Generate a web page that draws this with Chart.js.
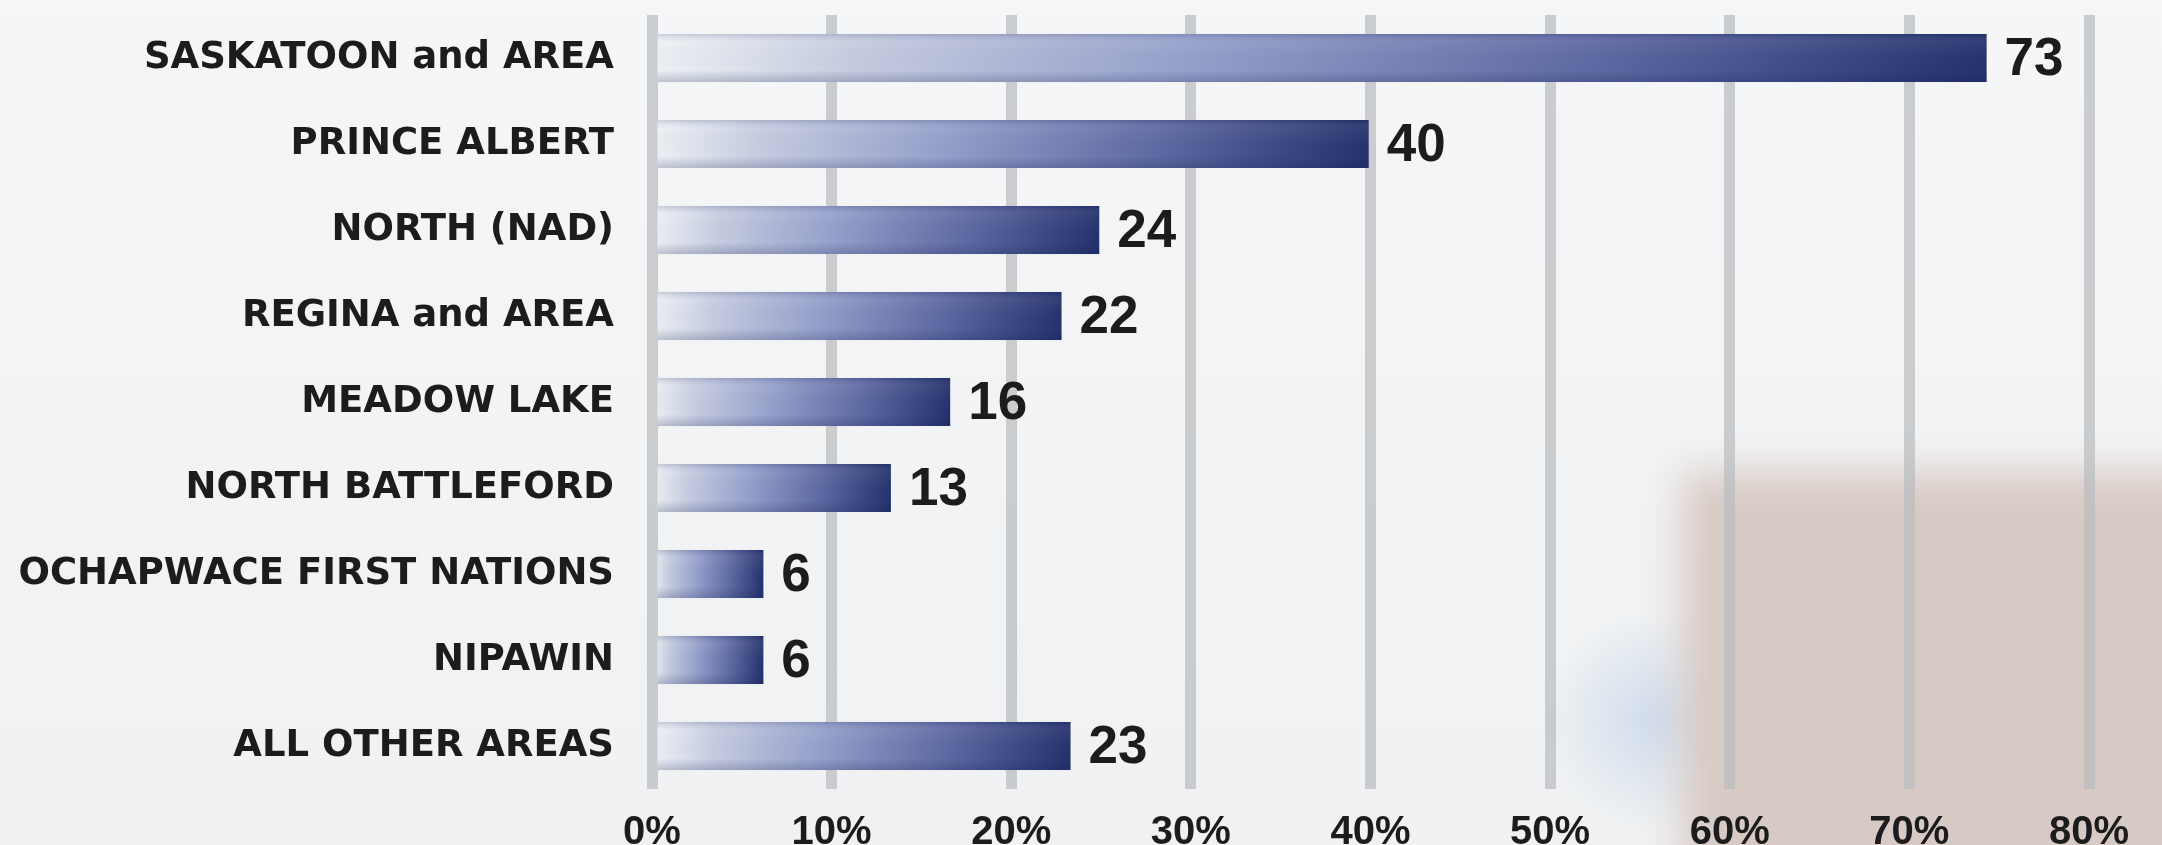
<!DOCTYPE html>
<html>
<head>
<meta charset="utf-8">
<script src="https://cdn.jsdelivr.net/npm/chart.js@4.4.1/dist/chart.umd.min.js"></script>
<style>
  html, body { margin: 0; padding: 0; background: #f4f5f6; }
  #wrap { width: 2162px; height: 845px; }
</style>
</head>
<body>
<div id="wrap"><canvas id="c" width="2162" height="845"></canvas></div>
<script>
const categories = [
  'SASKATOON and AREA',
  'PRINCE ALBERT',
  'NORTH (NAD)',
  'REGINA and AREA',
  'MEADOW LAKE',
  'NORTH BATTLEFORD',
  'OCHAPWACE FIRST NATIONS',
  'NIPAWIN',
  'ALL OTHER AREAS'
];
const barValues = [74.3, 39.9, 24.9, 22.8, 16.6, 13.3, 6.2, 6.2, 23.3];
const valueLabels = ['73', '40', '24', '22', '16', '13', '6', '6', '23'];
const xTickValues = [0, 10, 20, 30, 40, 50, 60, 70, 80];
const xTickLabels = ['0%', '10%', '20%', '30%', '40%', '50%', '60%', '70%', '80%'];

const backgroundPlugin = {
  id: 'bgPaint',
  beforeDraw(chart) {
    const { ctx, width, height } = chart;
    ctx.save();
    const g = ctx.createLinearGradient(0, 0, 0, height);
    g.addColorStop(0, '#f5f6f7');
    g.addColorStop(1, '#eff1f2');
    ctx.fillStyle = g;
    ctx.fillRect(0, 0, width, height);
    // soft bluish glow at the left edge of the beige block
    const rg = ctx.createRadialGradient(1655, 720, 5, 1655, 720, 110);
    rg.addColorStop(0, 'rgba(185,205,232,0.55)');
    rg.addColorStop(1, 'rgba(185,205,232,0)');
    ctx.fillStyle = rg;
    ctx.fillRect(1500, 560, 320, 285);
    // beige block bottom-right
    ctx.filter = 'blur(20px)';
    ctx.fillStyle = '#d7c9c4';
    ctx.fillRect(1682, 472, 560, 420);
    ctx.filter = 'none';
    ctx.restore();
  }
};

const barShadePlugin = {
  id: 'barShade',
  afterDatasetsDraw(chart) {
    const { ctx } = chart;
    const meta = chart.getDatasetMeta(0);
    ctx.save();
    meta.data.forEach((bar) => {
      const top = bar.y - bar.height / 2;
      const bottom = bar.y + bar.height / 2;
      const left = Math.min(bar.base, bar.x);
      const w = Math.abs(bar.x - bar.base);
      const g = ctx.createLinearGradient(0, top, 0, bottom);
      g.addColorStop(0, 'rgba(20,30,80,0.16)');
      g.addColorStop(0.18, 'rgba(255,255,255,0.06)');
      g.addColorStop(0.75, 'rgba(20,30,80,0)');
      g.addColorStop(1, 'rgba(20,30,80,0.22)');
      ctx.fillStyle = g;
      ctx.fillRect(left, top, w, bottom - top);
    });
    ctx.restore();
  }
};

const valueLabelPlugin = {
  id: 'valueLabels',
  afterDatasetsDraw(chart) {
    const { ctx } = chart;
    const meta = chart.getDatasetMeta(0);
    ctx.save();
    ctx.font = 'bold 53px "Liberation Sans", Arial, sans-serif';
    ctx.fillStyle = '#1c1c1c';
    ctx.textAlign = 'left';
    ctx.textBaseline = 'middle';
    meta.data.forEach((bar, i) => {
      ctx.fillText(valueLabels[i], bar.x + 18, bar.y + 2);
    });
    ctx.restore();
  }
};

function barGradient(context) {
  const chart = context.chart;
  if (!chart.chartArea || context.raw === undefined) return '#2a3a72';
  const xs = chart.scales.x;
  const x0 = xs.getPixelForValue(0);
  const x1 = xs.getPixelForValue(context.raw);
  const g = chart.ctx.createLinearGradient(x0, 0, x1, 0);
  g.addColorStop(0, '#eef2f5');
  g.addColorStop(0.15, '#c6cce0');
  g.addColorStop(0.4, '#96a0cb');
  g.addColorStop(0.7, '#5e6aa3');
  g.addColorStop(1, '#25316d');
  return g;
}

new Chart(document.getElementById('c'), {
  type: 'bar',
  data: {
    labels: categories,
    datasets: [{
      data: barValues,
      backgroundColor: barGradient,
      borderWidth: 0,
      barPercentage: 0.56,
      categoryPercentage: 1.0
    }]
  },
  options: {
    indexAxis: 'y',
    responsive: false,
    animation: false,
    devicePixelRatio: 1,
    layout: { padding: { top: 15, right: 73, bottom: 0, left: 0 } },
    plugins: { legend: { display: false }, tooltip: { enabled: false } },
    scales: {
      x: {
        min: 0,
        max: 80,
        afterBuildTicks: (s) => { s.ticks = xTickValues.map(v => ({ value: v })); },
        afterFit: (s) => { s.height = 56; s.paddingLeft = 0; s.paddingRight = 0; },
        border: { display: false },
        grid: { color: 'rgba(186,189,191,0.72)', lineWidth: 11, drawTicks: false },
        ticks: {
          padding: 20,
          color: '#1c1c1c',
          font: { family: '"Liberation Sans", Arial, sans-serif', weight: 'bold', size: 40 },
          callback: (v, i) => xTickLabels[i]
        }
      },
      y: {
        afterFit: (s) => { s.width = 652; s.paddingTop = 0; s.paddingBottom = 0; },
        border: { display: false },
        grid: { display: false, drawTicks: false },
        ticks: {
          padding: 38,
          color: '#1c1c1c',
          font: { family: '"DejaVu Sans", sans-serif', weight: 'bold', size: 37 }
        }
      }
    }
  },
  plugins: [backgroundPlugin, barShadePlugin, valueLabelPlugin]
});
</script>
</body>
</html>
